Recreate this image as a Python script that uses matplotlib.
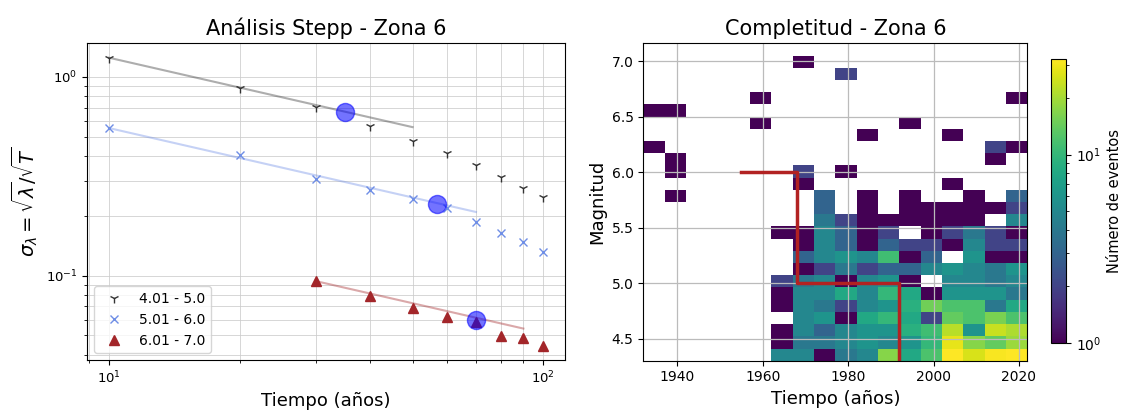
import numpy as np
import matplotlib
matplotlib.use("Agg")
import matplotlib.pyplot as plt
from matplotlib.colors import LogNorm

# ---- Stepp analysis (left panel) ----
periods = [10, 20, 30, 40, 50, 60, 70, 80, 90, 100]
sigma_m4 = [1.25, 0.883, 0.706, 0.566, 0.474, 0.414, 0.359, 0.315, 0.277, 0.248]
sigma_m5 = [0.553, 0.403, 0.307, 0.270, 0.244, 0.219, 0.187, 0.164, 0.147, 0.132]
periods_m6 = [30, 40, 50, 60, 70, 80, 90, 100]
sigma_m6 = [0.0937, 0.0788, 0.069, 0.0621, 0.0582, 0.0499, 0.0483, 0.0444]

fit_t_m4 = [10, 50]
fit_s_m4 = [1.25, 0.559]
fit_t_m5 = [10, 70]
fit_s_m5 = [0.553, 0.209]
fit_t_m6 = [30, 90]
fit_s_m6 = [0.0937, 0.0541]

complete_t = [35, 57, 70]
complete_s = [0.668, 0.229, 0.060]

labels = ["4.01 - 5.0", "5.01 - 6.0", "6.01 - 7.0"]

# ---- Completeness histogram (right panel) ----
year_edges = np.arange(1932, 2023, 5)
mag_edges = np.linspace(4.3, 7.05, 26)

# rows from top magnitude bin (6.94-7.05) down to bottom (4.30-4.41), 18 five-year columns
counts_top_down = [
    [0, 0, 0, 0, 0, 0, 0, 1, 0, 0, 0, 0, 0, 0, 0, 0, 0, 0],
    [0, 0, 0, 0, 0, 0, 0, 0, 0, 2, 0, 0, 0, 0, 0, 0, 0, 0],
    [0, 0, 0, 0, 0, 0, 0, 0, 0, 0, 0, 0, 0, 0, 0, 0, 0, 0],
    [0, 0, 0, 0, 0, 1, 0, 0, 0, 0, 0, 0, 0, 0, 0, 0, 0, 1],
    [1, 1, 0, 0, 0, 0, 0, 0, 0, 0, 0, 0, 0, 0, 0, 0, 0, 0],
    [0, 0, 0, 0, 0, 1, 0, 0, 0, 0, 0, 0, 1, 0, 0, 0, 0, 0],
    [0, 0, 0, 0, 0, 0, 0, 0, 0, 0, 1, 0, 0, 0, 1, 0, 0, 0],
    [1, 0, 0, 0, 0, 0, 0, 0, 0, 0, 0, 0, 0, 0, 0, 0, 2, 1],
    [0, 1, 0, 0, 0, 0, 0, 0, 0, 0, 0, 0, 0, 0, 0, 0, 1, 0],
    [0, 1, 0, 0, 0, 0, 0, 2, 0, 1, 0, 0, 0, 0, 0, 0, 0, 0],
    [0, 0, 0, 0, 0, 0, 0, 1, 0, 0, 0, 0, 0, 0, 1, 0, 0, 0],
    [0, 1, 0, 0, 0, 0, 0, 0, 3, 0, 1, 0, 1, 0, 0, 1, 0, 3],
    [0, 0, 0, 0, 0, 0, 0, 0, 3, 0, 1, 0, 1, 1, 1, 1, 1, 2],
    [0, 0, 0, 0, 0, 0, 0, 0, 4, 2, 1, 1, 1, 1, 1, 1, 0, 5],
    [0, 0, 0, 0, 0, 0, 1, 1, 5, 3, 1, 2, 0, 1, 2, 4, 2, 1],
    [0, 0, 0, 0, 0, 0, 0, 1, 5, 3, 1, 3, 2, 2, 1, 5, 2, 2],
    [0, 0, 0, 0, 0, 0, 0, 3, 5, 6, 5, 11, 1, 3, 0, 6, 1, 1],
    [0, 0, 0, 0, 0, 0, 0, 1, 2, 4, 2, 3, 3, 5, 6, 5, 4, 6],
    [0, 0, 0, 0, 0, 0, 2, 4, 5, 1, 5, 6, 1, 0, 5, 5, 4, 5],
    [0, 0, 0, 0, 0, 0, 1, 5, 5, 8, 5, 10, 8, 1, 6, 6, 6, 4],
    [0, 0, 0, 0, 0, 0, 1, 5, 4, 2, 5, 6, 9, 15, 12, 12, 4, 8],
    [0, 0, 0, 0, 0, 0, 0, 5, 6, 1, 8, 10, 8, 2, 14, 12, 16, 12],
    [0, 0, 0, 0, 0, 0, 1, 5, 3, 5, 6, 6, 9, 11, 22, 6, 24, 21],
    [0, 0, 0, 0, 0, 0, 1, 4, 4, 5, 6, 5, 6, 10, 28, 17, 14, 19],
    [0, 0, 0, 0, 0, 0, 5, 5, 1, 4, 5, 17, 8, 12, 32, 26, 31, 32],
]

step_years = [1955, 1968, 1968, 1992, 1992]
step_mags = [6.0, 6.0, 5.0, 5.0, 4.3]

fig = plt.figure(figsize=(11.25, 4.13), dpi=100)

# left: Stepp plot
ax1 = fig.add_axes([0.0776, 0.1283, 0.4246, 0.7668])
ax1.plot(periods, sigma_m4, linestyle="none", marker="1", color="#333333", ms=7, label=labels[0])
ax1.plot(periods, sigma_m5, linestyle="none", marker="x", color="#6f8ee6", ms=6, label=labels[1])
ax1.plot(periods_m6, sigma_m6, linestyle="none", marker="^", color="#a3262a", ms=7, label=labels[2])
ax1.plot(fit_t_m4, fit_s_m4, color="#333333", alpha=0.4, lw=1.5)
ax1.plot(fit_t_m5, fit_s_m5, color="#6f8ee6", alpha=0.4, lw=1.5)
ax1.plot(fit_t_m6, fit_s_m6, color="#a3262a", alpha=0.4, lw=1.5)
ax1.plot(complete_t, complete_s, linestyle="none", marker="o", color="blue", alpha=0.55, ms=13)
ax1.set_xscale("log")
ax1.set_yscale("log")
ax1.grid(True, which="both", color="#cccccc", lw=0.7, alpha=0.8)
ax1.set_title("Análisis Stepp - Zona 6", fontsize=15)
ax1.set_xlabel("Tiempo (años)", fontsize=13)
ax1.set_ylabel(r"$\sigma_\lambda = \sqrt{\lambda}/\sqrt{T}$", fontsize=14)
ax1.tick_params(labelsize=9.5)
ax1.legend(loc="lower left", fontsize=10)

# right: completeness heatmap
ax2 = fig.add_axes([0.5718, 0.1266, 0.3415, 0.7685])
counts = np.array(counts_top_down[::-1], dtype=float)
mesh = ax2.pcolormesh(year_edges, mag_edges, np.ma.masked_equal(counts, 0),
                      cmap="viridis", norm=LogNorm(vmin=1, vmax=32))
ax2.plot(step_years, step_mags, color="#b22222", lw=2.5)
ax2.set_xlim(1932, 2022)
ax2.set_ylim(4.3, 7.16)
ax2.set_xticks([1940, 1960, 1980, 2000, 2020])
ax2.grid(True, color="#bbbbbb", lw=0.9)
ax2.set_title("Completitud - Zona 6", fontsize=15)
ax2.set_xlabel("Tiempo (años)", fontsize=13)
ax2.set_ylabel("Magnitud", fontsize=13)
ax2.tick_params(labelsize=10)

cax = fig.add_axes([0.934, 0.1688, 0.0136, 0.6877])
cbar = fig.colorbar(mesh, cax=cax)
cbar.set_label("Número de eventos", fontsize=10.5)
cbar.ax.tick_params(labelsize=10)

fig.savefig("out.png", dpi=100)
